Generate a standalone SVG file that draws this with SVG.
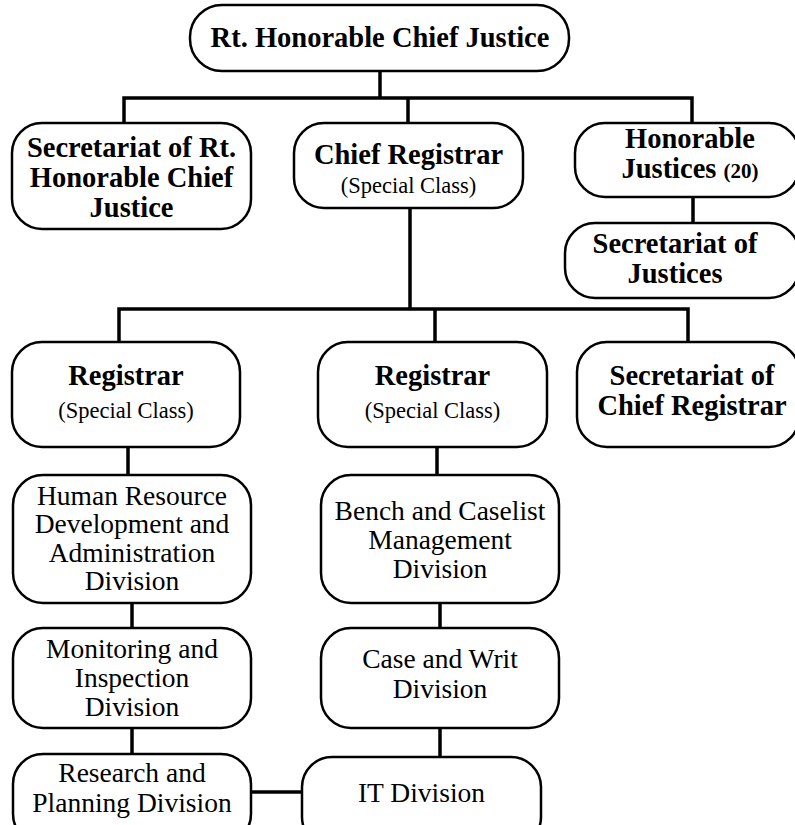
<svg xmlns="http://www.w3.org/2000/svg" width="795" height="825" viewBox="0 0 795 825">
<style>
.box{fill:#fff;stroke:#000;stroke-width:2.5}
.c{stroke:#000;stroke-width:3.5;fill:none;stroke-linecap:square}
.b{font-family:"Liberation Serif",serif;font-weight:bold;font-size:28.5px;text-anchor:middle;fill:#000}
.r{font-family:"Liberation Serif",serif;font-size:27.5px;text-anchor:middle;fill:#000}
.s{font-family:"Liberation Serif",serif;font-size:22.5px;text-anchor:middle;fill:#000}
.sb{font-size:21px}
</style>
<rect width="795" height="825" fill="#fff"/>
<g id="connectors">
<path class="c" d="M380 71V98M124 98H692M124 98V123M408 98V123M692 98V123"/>
<path class="c" d="M693 197V223"/>
<path class="c" d="M410 208V309M119 309H688M119 309V342M435 309V342M688 309V342"/>
<path class="c" d="M128 447V475M437 447V475"/>
<path class="c" d="M132 603V628M132 728V754"/>
<path class="c" d="M440 603V628M440 728V757"/>
<path class="c" d="M251 792H302"/>
</g>
<g id="chief-justice">
<rect class="box" x="190" y="5" width="379" height="66" rx="32"/>
<text class="b" x="380" y="47">Rt. Honorable Chief Justice</text>
</g>
<g id="secretariat-chief-justice">
<rect class="box" x="12" y="123" width="239" height="106" rx="30"/>
<text class="b" x="131.5" y="157">Secretariat of Rt.</text>
<text class="b" x="131.5" y="187">Honorable Chief</text>
<text class="b" x="131.5" y="217">Justice</text>
</g>
<g id="chief-registrar">
<rect class="box" x="294" y="123" width="229" height="85" rx="30"/>
<text class="b" x="408.5" y="164">Chief Registrar</text>
<text class="s" x="408.5" y="193">(Special Class)</text>
</g>
<g id="honorable-justices">
<rect class="box" x="575" y="123" width="224" height="74" rx="30"/>
<text class="b" x="690" y="148">Honorable</text>
<text class="b" x="690" y="178">Justices <tspan class="sb">(20)</tspan></text>
</g>
<g id="secretariat-justices">
<rect class="box" x="565" y="223" width="234" height="75" rx="30"/>
<text class="b" x="675" y="253">Secretariat of</text>
<text class="b" x="675" y="283">Justices</text>
</g>
<g id="registrar-left">
<rect class="box" x="12" y="342" width="228" height="105" rx="30"/>
<text class="b" x="126" y="385">Registrar</text>
<text class="s" x="126" y="418">(Special Class)</text>
</g>
<g id="registrar-middle">
<rect class="box" x="318" y="342" width="229" height="105" rx="30"/>
<text class="b" x="432.5" y="385">Registrar</text>
<text class="s" x="432.5" y="418">(Special Class)</text>
</g>
<g id="secretariat-chief-registrar">
<rect class="box" x="577" y="342" width="222" height="105" rx="30"/>
<text class="b" x="692" y="385">Secretariat of</text>
<text class="b" x="692" y="415">Chief Registrar</text>
</g>
<g id="hr-division">
<rect class="box" x="13" y="475" width="238" height="128" rx="30"/>
<text class="r" x="132" y="505">Human Resource</text>
<text class="r" x="132" y="533">Development and</text>
<text class="r" x="132" y="562">Administration</text>
<text class="r" x="132" y="590">Division</text>
</g>
<g id="monitoring-division">
<rect class="box" x="13" y="628" width="238" height="100" rx="30"/>
<text class="r" x="132" y="658">Monitoring and</text>
<text class="r" x="132" y="687">Inspection</text>
<text class="r" x="132" y="716">Division</text>
</g>
<g id="research-division">
<rect class="box" x="13" y="754" width="238" height="90" rx="30"/>
<text class="r" x="132" y="782">Research and</text>
<text class="r" x="132" y="812">Planning Division</text>
</g>
<g id="bench-division">
<rect class="box" x="321" y="475" width="238" height="128" rx="30"/>
<text class="r" x="440" y="520">Bench and Caselist</text>
<text class="r" x="440" y="549">Management</text>
<text class="r" x="440" y="578">Division</text>
</g>
<g id="case-writ-division">
<rect class="box" x="321" y="628" width="238" height="100" rx="30"/>
<text class="r" x="440" y="668">Case and Writ</text>
<text class="r" x="440" y="698">Division</text>
</g>
<g id="it-division">
<rect class="box" x="302" y="757" width="239" height="90" rx="30"/>
<text class="r" x="421.5" y="802">IT Division</text>
</g>
</svg>
